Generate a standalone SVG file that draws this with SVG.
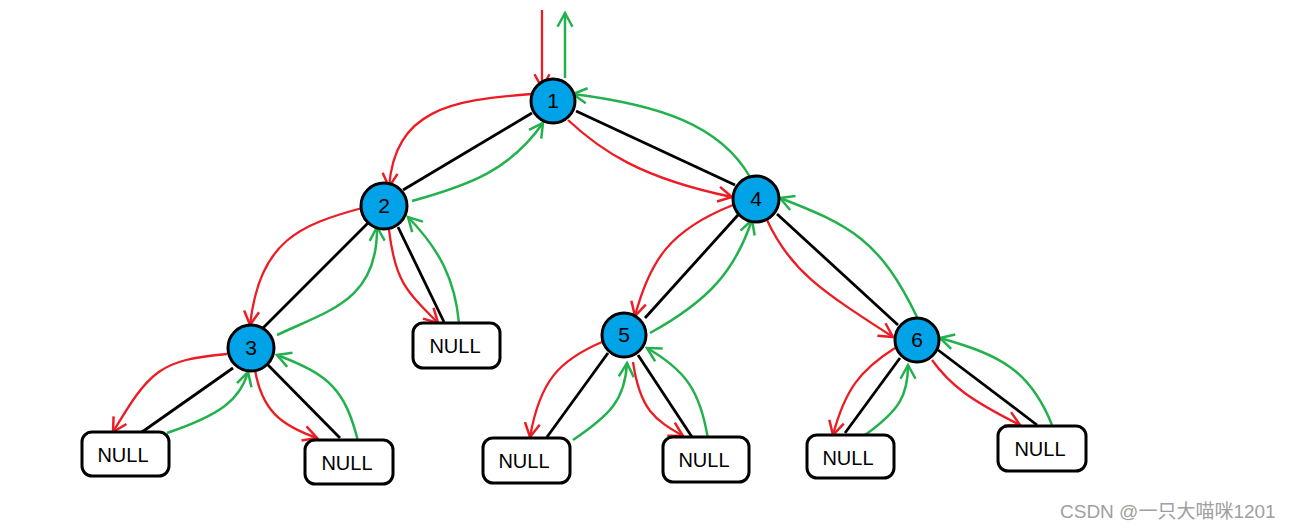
<svg xmlns="http://www.w3.org/2000/svg" width="1294" height="529" viewBox="0 0 1294 529">
<style>
.edge{stroke:#000;stroke-width:2.8;fill:none}
.red{stroke:#ED1C24;stroke-width:2.3;fill:none;marker-end:url(#ar)}
.grn{stroke:#22B14C;stroke-width:2.5;fill:none;marker-end:url(#ag)}
.node circle{fill:#00A2E8;stroke:#000;stroke-width:3}
.null rect{fill:#fff;stroke:#000;stroke-width:3}
.lbl{font-family:"Liberation Sans",Arial,sans-serif;font-size:21px;fill:#000;text-anchor:middle}
.nl{font-family:"Liberation Sans",Arial,sans-serif;font-size:20px;fill:#000;text-anchor:middle}
</style>
<defs>
<marker id="ar" markerUnits="userSpaceOnUse" markerWidth="20" markerHeight="20" refX="0" refY="0" viewBox="-12 -8 14 16" orient="auto">
<path d="M-11,-6 L0,0 L-11,6" fill="none" stroke="#ED1C24" stroke-width="2"/>
</marker>
<marker id="ag" markerUnits="userSpaceOnUse" markerWidth="20" markerHeight="20" refX="0" refY="0" viewBox="-12 -8 14 16" orient="auto">
<path d="M-11,-6 L0,0 L-11,6" fill="none" stroke="#22B14C" stroke-width="2"/>
</marker>
</defs>
<rect width="1294" height="529" fill="#fff"/>
<g id="connectors">
<line class="edge" x1="532" y1="113" x2="403" y2="190"/>
<line class="edge" x1="576" y1="111" x2="735" y2="185"/>
<line class="edge" x1="368" y1="223" x2="263" y2="328"/>
<line class="edge" x1="398" y1="227" x2="444" y2="322"/>
<line class="edge" x1="738" y1="215" x2="645" y2="318"/>
<line class="edge" x1="777" y1="214" x2="898" y2="325"/>
<line class="edge" x1="233" y1="368" x2="142" y2="432"/>
<line class="edge" x1="268" y1="365" x2="340" y2="438"/>
<line class="edge" x1="608" y1="353" x2="547" y2="437"/>
<line class="edge" x1="638" y1="355" x2="692" y2="437"/>
<line class="edge" x1="900" y1="358" x2="845" y2="433"/>
<line class="edge" x1="938" y1="350" x2="1037" y2="425"/>
<path class="red" d="M542,10 L542,88"/>
<path class="grn" d="M565,78 L565,13"/>
<path class="red" d="M532,94 C450,100 395,110 389,187"/>
<path class="grn" d="M412,201 C470,185 510,170 543,123"/>
<path class="red" d="M568,120 C600,150 640,178 732,197"/>
<path class="grn" d="M750,177 C720,125 660,105 573,94"/>
<path class="red" d="M362,208 C300,225 260,240 250,325"/>
<path class="grn" d="M277,335 C330,310 378,300 377,227"/>
<path class="red" d="M389,230 C395,280 405,290 438,323"/>
<path class="grn" d="M459,323 C455,280 440,250 408,217"/>
<path class="red" d="M227,354 C160,360 150,370 113,432"/>
<path class="grn" d="M167,433 C220,415 240,400 248,372"/>
<path class="red" d="M255,370 C262,410 280,425 317,438"/>
<path class="grn" d="M358,441 C345,390 330,375 277,355"/>
<path class="red" d="M733,205 C670,230 650,260 635,316"/>
<path class="grn" d="M650,333 C710,300 735,270 752,220"/>
<path class="red" d="M767,220 C790,270 820,290 893,337"/>
<path class="grn" d="M917,317 C880,240 850,225 780,198"/>
<path class="red" d="M602,342 C560,360 540,380 530,437"/>
<path class="grn" d="M573,440 C610,415 625,400 627,363"/>
<path class="red" d="M633,362 C640,410 655,420 683,436"/>
<path class="grn" d="M708,439 C700,390 685,370 647,348"/>
<path class="red" d="M895,348 C860,370 845,390 833,435"/>
<path class="grn" d="M865,435 C900,410 908,395 908,365"/>
<path class="red" d="M932,360 C950,385 970,400 1020,425"/>
<path class="grn" d="M1052,425 C1030,370 1000,355 940,338"/>
</g>
<g id="n1" class="node"><circle cx="553" cy="101" r="22"/><text class="lbl" x="553" y="108">1</text></g>
<g id="n2" class="node"><circle cx="384" cy="206" r="23"/><text class="lbl" x="384" y="213">2</text></g>
<g id="n3" class="node"><circle cx="251" cy="348" r="23"/><text class="lbl" x="251" y="355">3</text></g>
<g id="n4" class="node"><circle cx="756" cy="199" r="23"/><text class="lbl" x="756" y="206">4</text></g>
<g id="n5" class="node"><circle cx="624" cy="335" r="22"/><text class="lbl" x="624" y="342">5</text></g>
<g id="n6" class="node"><circle cx="917" cy="340" r="22"/><text class="lbl" x="917" y="347">6</text></g>
<g id="null2r" class="null"><rect x="413" y="323" width="87" height="45" rx="10"/><text class="nl" x="455" y="353">NULL</text></g>
<g id="null3l" class="null"><rect x="82" y="432" width="87" height="44" rx="10"/><text class="nl" x="123" y="462">NULL</text></g>
<g id="null3r" class="null"><rect x="305" y="440" width="88" height="44" rx="10"/><text class="nl" x="347" y="470">NULL</text></g>
<g id="null5l" class="null"><rect x="483" y="438" width="87" height="45" rx="10"/><text class="nl" x="524" y="468">NULL</text></g>
<g id="null5r" class="null"><rect x="663" y="437" width="86" height="45" rx="10"/><text class="nl" x="704" y="467">NULL</text></g>
<g id="null6l" class="null"><rect x="807" y="435" width="87" height="43" rx="10"/><text class="nl" x="848" y="465">NULL</text></g>
<g id="null6r" class="null"><rect x="998" y="426" width="88" height="45" rx="10"/><text class="nl" x="1040" y="456">NULL</text></g>
<text x="1060" y="518" font-family="'Liberation Sans','Noto Sans CJK SC',sans-serif" font-size="19" fill="#a0a0a0">CSDN @一只大喵咪1201</text>
</svg>
